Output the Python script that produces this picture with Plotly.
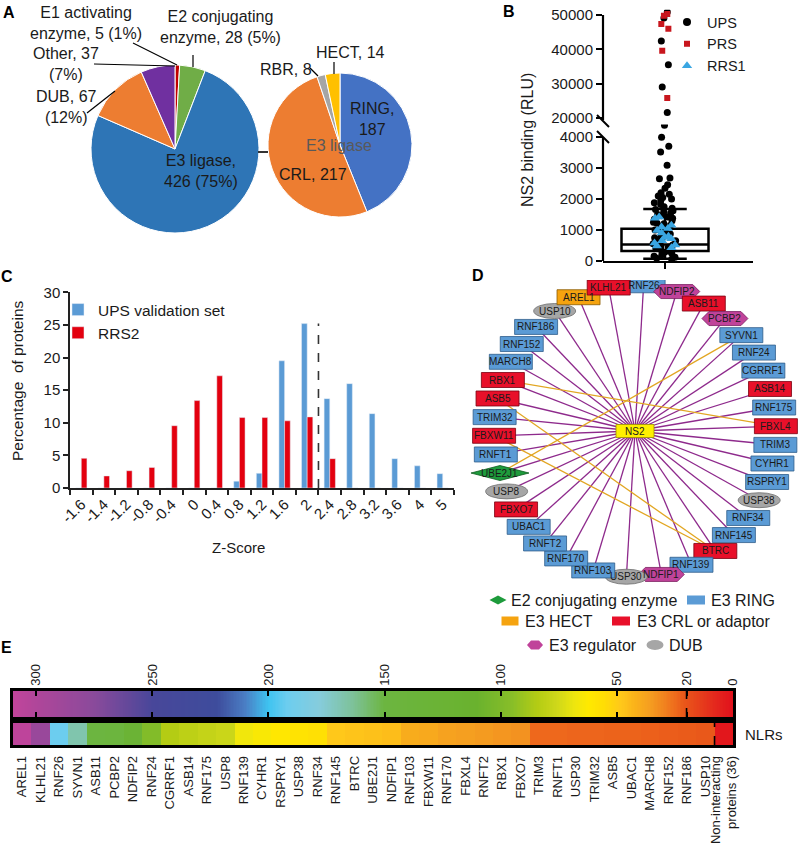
import numpy as np
import plotly.graph_objects as go

FONT = "Liberation Sans, Arial, sans-serif"
INK = "#1a1a1a"
W, H = 800, 845

# ---------------- Panel A data ----------------
a_labels = ["E1 activating<br>enzyme", "E2 conjugating<br>enzyme", "E3 ligase", "DUB", "Other"]
a_values = [5, 28, 426, 67, 37]
a_pct = [1, 5, 75, 12, 7]
a_colors = ["#C00000", "#70AD47", "#2E75B6", "#ED7D31", "#7030A0"]
e3_labels = ["RING", "CRL", "RBR", "HECT"]
e3_values = [187, 217, 8, 14]
e3_colors = ["#4472C4", "#ED7D31", "#A5A5A5", "#FFC000"]

# ---------------- Panel B data ----------------
b_ups_high = [50900, 49100, 42400, 35500, 29000, 21600]
b_prs_high = [50300, 49800, 47400, 46000, 39600, 25800]
b_ups_low = [4380, 3990, 3700, 3520, 3090, 2680, 2650, 2460, 2350, 2200, 2150, 2100,
             2050, 2000, 1950, 1880, 1820, 1750, 1700, 1660, 1620, 1580, 1550, 1500,
             1460, 1420, 1380, 1350, 1300, 1250, 1220, 1200, 1150, 1100, 1050, 1000,
             950, 900, 870, 820, 780, 750, 700, 650, 600, 560, 520, 480, 440, 400,
             360, 320, 280, 250, 200, 150, 120, 90, 60]
b_rrs1_low = [1420, 1380, 1150, 1100, 1050, 980, 900, 800, 760, 720, 650, 580, 520, 480, 430]
b_q1, b_median, b_q3, b_lowfence, b_upfence = 320, 530, 1040, 75, 1680

# ---------------- Panel C data ----------------
c_bins = ["-1.6", "-1.4", "-1.2", "-0.8", "-0.4", "0", "0.4", "0.8", "1.2", "1.6",
          "2", "2.4", "2.8", "3.2", "3.6", "4", "5"]
c_ups = [0, 0, 0, 0, 0, 0, 0, 1.05, 2.25, 19.5, 25.2, 13.7, 16.0, 11.4, 4.5, 3.4, 2.2]
c_rrs2 = [4.55, 1.85, 2.65, 3.15, 9.55, 13.4, 17.2, 10.8, 10.8, 10.3, 10.9, 4.5, 0, 0, 0, 0, 0]
c_cutoff_after = "2"

# ---------------- Panel D data ----------------
d_nodes = ["RNF26", "NDFIP2", "ASB11", "PCBP2", "SYVN1", "RNF24", "CGRRF1", "ASB14",
           "RNF175", "FBXL4", "TRIM3", "CYHR1", "RSPRY1", "USP38", "RNF34", "RNF145",
           "BTRC", "RNF139", "NDFIP1", "USP30", "RNF103", "RNF170", "RNFT2", "UBAC1",
           "FBXO7", "USP8", "UBE2J1", "RNFT1", "FBXW11", "TRIM32", "ASB5", "RBX1",
           "MARCH8", "RNF152", "RNF186", "USP10", "AREL1", "KLHL21"]
d_types = ["RING", "REG", "CRL", "REG", "RING", "RING", "RING", "CRL",
           "RING", "CRL", "RING", "RING", "RING", "DUB", "RING", "RING",
           "CRL", "RING", "REG", "DUB", "RING", "RING", "RING", "RING",
           "CRL", "DUB", "E2", "RING", "CRL", "RING", "CRL", "CRL",
           "RING", "RING", "RING", "DUB", "HECT", "CRL"]
d_extra_edges = [("SYVN1", "UBE2J1"), ("RBX1", "FBXL4"), ("ASB5", "BTRC"), ("FBXW11", "BTRC")]
d_center = "NS2"

# ---------------- Panel E data ----------------
e_names = ["AREL1", "KLHL21", "RNF26", "SYVN1", "ASB11", "PCBP2", "NDFIP2", "RNF24",
           "CGRRF1", "ASB14", "RNF175", "USP8", "RNF139", "CYHR1", "RSPRY1", "USP38",
           "RNF34", "RNF145", "BTRC", "UBE2J1", "NDFIP1", "RNF103", "FBXW11", "RNF170",
           "FBXL4", "RNFT2", "RBX1", "FBXO7", "TRIM3", "RNFT1", "USP30", "TRIM32",
           "ASB5", "UBAC1", "MARCH8", "RNF152", "RNF186", "USP10"]
e_nlr = [308, 285, 192, 168, 150, 145, 125, 98, 84, 81, 79, 77, 67, 64, 61, 59,
         57, 48, 47, 46, 45, 40, 39, 37, 36, 35, 34, 33, 24, 24, 23.5, 23.5,
         23, 23, 22.5, 22, 21.5, 21]
e_nonint_label = "Non-interacting<br>proteins (36)"
e_nonint_nlr = 2
e_ticks = [300, 250, 200, 150, 100, 50, 20, 0]
e_threshold = 20
e_max = 310
e_stops = [(0, "#E1111C"), (8, "#E4291D"), (21, "#E9581A"), (24, "#EE681C"), (30, "#F1851F"),
           (36, "#F59F20"), (42, "#FAB21A"), (48, "#FFC81A"), (55, "#FFDC05"), (62, "#FFE900"),
           (68, "#EEE60E"), (76, "#CDD71A"), (84, "#B4CC14"), (95, "#88BE28"), (110, "#6AB22E"),
           (150, "#6CB540"), (163, "#7DC196"), (178, "#86CCDC"), (192, "#6CCDEF"), (200, "#3EC3F0"),
           (210, "#4A7EC4"), (222, "#3E4C9C"), (250, "#48479A"), (275, "#8A4A9B"), (300, "#B0469A"),
           (310, "#C2449B")]


def X(p):
    return p / W


def Y(p):
    return 1 - p / H


fig = go.Figure()
annotations = []
shapes = []


def ann(x, y, text, size=15, color=INK, xanchor="center", yanchor="middle", angle=0,
        xref="paper", yref="paper", bold=False):
    if xref == "paper":
        x = X(x)
    if yref == "paper":
        y = Y(y)
    annotations.append(dict(x=x, y=y, xref=xref, yref=yref, text=f"<b>{text}</b>" if bold else text,
                            showarrow=False, xanchor=xanchor, yanchor=yanchor, textangle=angle,
                            font=dict(family=FONT, size=size, color=color)))


def pline(x0, y0, x1, y1, color="black", width=1.2, dash="solid"):
    shapes.append(dict(type="line", xref="paper", yref="paper", x0=X(x0), y0=Y(y0), x1=X(x1), y1=Y(y1),
                       line=dict(color=color, width=width, dash=dash)))


# ================= Panel A =================
fig.add_trace(go.Pie(values=a_values, labels=a_labels, sort=False, direction="clockwise", rotation=0,
                     marker=dict(colors=a_colors, line=dict(color="white", width=1)),
                     textinfo="none", showlegend=False,
                     domain=dict(x=[X(91), X(259)], y=[Y(233), Y(65)])))
fig.add_trace(go.Pie(values=e3_values, labels=e3_labels, sort=False, direction="clockwise", rotation=0,
                     marker=dict(colors=e3_colors, line=dict(color="white", width=1)),
                     textinfo="none", showlegend=False,
                     domain=dict(x=[X(268), X(412)], y=[Y(217), Y(73)])))

a_text = [f"{a_labels[0]}, {a_values[0]} ({a_pct[0]}%)",
          f"{a_labels[1]}, {a_values[1]} ({a_pct[1]}%)",
          f"{a_labels[2]},<br>{a_values[2]} ({a_pct[2]}%)",
          f"{a_labels[3]}, {a_values[3]}<br>({a_pct[3]}%)",
          f"{a_labels[4]}, {a_values[4]}<br>({a_pct[4]}%)"]
a_pos = [(86, 23), (220, 27), (201, 171), (66, 107), (66, 64)]
for t, (x, y) in zip(a_text, a_pos):
    ann(x, y, t, size=16)
e3_text = [f"{e3_labels[0]},<br>{e3_values[0]}", f"{e3_labels[1]}, {e3_values[1]}",
           f"{e3_labels[2]}, {e3_values[2]}", f"{e3_labels[3]}, {e3_values[3]}"]
e3_pos = [(372, 119), (313, 174), (286, 70), (350, 53)]
for t, (x, y) in zip(e3_text, e3_pos):
    ann(x, y, t, size=16)
ann(339, 146, "E3 ligase", size=16, color="#595959")
pline(133, 43, 177, 65)
pline(94, 64, 175, 66)
pline(87, 113, 115, 91)
pline(193, 55, 193, 67)
pline(310, 68, 318, 76)
pline(334, 62, 334, 74)
pline(258, 152, 268, 152, color="#333", width=2)

# ================= Panel B =================
fig.add_trace(go.Box(x=[0], q1=[b_q1], median=[b_median], q3=[b_q3], lowerfence=[b_lowfence],
                     upperfence=[b_upfence], boxpoints=False, width=0.87, whiskerwidth=0.5,
                     fillcolor="white", line=dict(color="black", width=2.5), showlegend=False,
                     xaxis="x", yaxis="y"))
pts = dict(boxpoints="all", pointpos=0, width=0.87, fillcolor="rgba(0,0,0,0)",
           line=dict(color="rgba(0,0,0,0)", width=0), showlegend=False, hoveron="points")
fig.add_trace(go.Box(y=b_ups_low, x=[0] * len(b_ups_low), jitter=0.3, xaxis="x", yaxis="y",
                     marker=dict(symbol="circle", color="black", size=7), **pts))
fig.add_trace(go.Box(y=b_rrs1_low, x=[0] * len(b_rrs1_low), jitter=0.3, xaxis="x", yaxis="y",
                     marker=dict(symbol="triangle-up", color="#3AA6E2", size=9), **pts))
fig.add_trace(go.Box(y=b_ups_high, x=[0] * len(b_ups_high), jitter=0.1, xaxis="x", yaxis="y2",
                     marker=dict(symbol="circle", color="black", size=7), **pts))
fig.add_trace(go.Box(y=b_prs_high, x=[0] * len(b_prs_high), jitter=0.1, xaxis="x", yaxis="y2",
                     marker=dict(symbol="square", color="#C8161D", size=6), **pts))
for nm, sym, col, sz in [("UPS", "circle", "black", 8), ("PRS", "square", "#C8161D", 6),
                          ("RRS1", "triangle-up", "#3AA6E2", 9)]:
    fig.add_trace(go.Scatter(x=[None], y=[None], mode="markers", name=nm, legend="legend",
                             marker=dict(symbol=sym, color=col, size=sz), xaxis="x", yaxis="y"))
# broken y-axis line
pline(603, 15, 603, 120, width=2.2)
pline(603, 137, 603, 261, width=2.2)
pline(597, 115, 609, 127, width=2)
pline(597, 131, 609, 143, width=2)
ann(528, 140, "NS2 binding (RLU)", size=16, angle=-90)

# ================= Panel C =================
fig.add_trace(go.Bar(x=c_bins, y=c_ups, name="UPS validation set", marker=dict(color="#5B9BD5"),
                     xaxis="x2", yaxis="y3", legend="legend2"))
fig.add_trace(go.Bar(x=c_bins, y=c_rrs2, name="RRS2", marker=dict(color="#E3000F"),
                     xaxis="x2", yaxis="y3", legend="legend2"))
cut = c_bins.index(c_cutoff_after) + 0.5
shapes.append(dict(type="line", xref="x2", yref="y3", x0=cut, x1=cut, y0=0, y1=25.2,
                   line=dict(color="#333", width=1.6, dash="dash")))
ann(17, 381, "Percentage  of proteins", size=15.5, angle=-90)
ann(238, 547, "Z-Score", size=15)

# ================= Panel D =================
cx, cy, rx, ry, ratio = 635, 431, 141, 146, 1.9
tt = np.linspace(0, 2 * np.pi, 6001)
ex, ey = rx * np.sin(tt), -ry * np.cos(tt)
seg = np.hypot(np.diff(ex) / ratio, np.diff(ey))
ss = np.concatenate([[0], np.cumsum(seg)])
L = ss[-1]
s0 = np.interp(np.deg2rad(3.5), tt, ss)
n = len(d_nodes)
targets = (s0 + np.arange(n) * L / n) % L
ti = np.interp(targets, ss, tt)
nx = cx + rx * np.sin(ti)
ny = cy - ry * np.cos(ti)
pos = {nm: (x, y) for nm, x, y in zip(d_nodes, nx, ny)}

ex_l, ey_l = [], []
for nm in d_nodes:
    ex_l += [cx, pos[nm][0], None]
    ey_l += [cy, pos[nm][1], None]
fig.add_trace(go.Scatter(x=ex_l, y=ey_l, mode="lines", line=dict(color="#8E2A8C", width=1.3),
                         xaxis="x3", yaxis="y4", showlegend=False, hoverinfo="skip"))
gx, gy = [], []
for a, b in d_extra_edges:
    gx += [pos[a][0], pos[b][0], None]
    gy += [pos[a][1], pos[b][1], None]
fig.add_trace(go.Scatter(x=gx, y=gy, mode="lines", line=dict(color="#E2A622", width=1.3),
                         xaxis="x3", yaxis="y4", showlegend=False, hoverinfo="skip"))

STY = {"RING": ("#5B9BD5", "#2F5D8A"), "CRL": ("#E8102A", "#7A0010"), "HECT": ("#F5A30F", "#8A5A00"),
       "REG": ("#C0439A", "#7A1F60"), "DUB": ("#A6A6A6", "#6E6E6E"), "E2": ("#1E9B3C", "#0E5A20"),
       "NS2": ("#FFF000", "#9A9000")}


def node_shape(x, y, typ, w=None, h=None):
    fill, edge = STY[typ]
    xr, yr = "x3", "y4"
    if typ in ("RING", "CRL", "HECT", "NS2"):
        w = w or 43
        h = h or 15
        return dict(type="rect", xref=xr, yref=yr, x0=x - w / 2, x1=x + w / 2, y0=y - h / 2, y1=y + h / 2,
                    fillcolor=fill, line=dict(color=edge, width=0.8))
    if typ == "DUB":
        w = w or 42
        h = h or 15
        return dict(type="circle", xref=xr, yref=yr, x0=x - w / 2, x1=x + w / 2, y0=y - h / 2, y1=y + h / 2,
                    fillcolor=fill, line=dict(color=edge, width=0.8))
    if typ == "REG":
        w = w or 46
        h = h or 14
        p = [(x - w / 2, y), (x - w / 2 + h / 2, y - h / 2), (x + w / 2 - h / 2, y - h / 2), (x + w / 2, y),
             (x + w / 2 - h / 2, y + h / 2), (x - w / 2 + h / 2, y + h / 2)]
    else:
        w = w or 58
        h = h or 15
        p = [(x - w / 2, y), (x, y - h / 2), (x + w / 2, y), (x, y + h / 2)]
    path = "M " + " L ".join(f"{a:.2f},{b:.2f}" for a, b in p) + " Z"
    return dict(type="path", xref=xr, yref=yr, path=path, fillcolor=fill, line=dict(color=edge, width=0.8))


for nm, typ in zip(d_nodes, d_types):
    x, y = pos[nm]
    shapes.append(node_shape(x, y, typ))
    ann(x, y, nm, size=10, xref="x3", yref="y4")
shapes.append(node_shape(cx, cy, "NS2", w=38, h=13))
ann(cx, cy, d_center, size=10, xref="x3", yref="y4")

# network legend (paper px)
leg = [(498, 600, "E2", 17, 9, 509, "E2 conjugating enzyme"), (696, 600, "RING", 18, 9, 709, "E3 RING"),
       (510, 621, "HECT", 17, 9, 523, "E3 HECT"), (621, 621, "CRL", 18, 9, 635, "E3 CRL or adaptor"),
       (535, 645, "REG", 16, 9, 547, "E3 regulator"), (655, 645, "DUB", 17, 10, 667, "DUB")]
for x, y, typ, w, h, tx, label in leg:
    fill, edge = STY[typ]
    if typ in ("RING", "HECT", "CRL"):
        shapes.append(dict(type="rect", xref="paper", yref="paper", x0=X(x - w / 2), x1=X(x + w / 2),
                           y0=Y(y + h / 2), y1=Y(y - h / 2), fillcolor=fill, line=dict(width=0)))
    elif typ == "DUB":
        shapes.append(dict(type="circle", xref="paper", yref="paper", x0=X(x - w / 2), x1=X(x + w / 2),
                           y0=Y(y + h / 2), y1=Y(y - h / 2), fillcolor=fill, line=dict(width=0)))
    elif typ == "REG":
        p = [(x - w / 2, y), (x - w / 2 + 4, y - h / 2), (x + w / 2 - 4, y - h / 2), (x + w / 2, y),
             (x + w / 2 - 4, y + h / 2), (x - w / 2 + 4, y + h / 2)]
        shapes.append(dict(type="path", xref="paper", yref="paper",
                           path="M " + " L ".join(f"{X(a):.5f},{Y(b):.5f}" for a, b in p) + " Z",
                           fillcolor=fill, line=dict(width=0)))
    else:
        p = [(x - w / 2, y), (x, y - h / 2), (x + w / 2, y), (x, y + h / 2)]
        shapes.append(dict(type="path", xref="paper", yref="paper",
                           path="M " + " L ".join(f"{X(a):.5f},{Y(b):.5f}" for a, b in p) + " Z",
                           fillcolor=fill, line=dict(width=0)))
    ann(tx, y, label, size=16, xanchor="left")

# ================= Panel E =================
cs = [[v / e_max, c] for v, c in e_stops]
grad_x = np.linspace(e_max, 0, 500)
fig.add_trace(go.Heatmap(x=grad_x, y=[0], z=[grad_x], colorscale=cs, zmin=0, zmax=e_max,
                         showscale=False, xaxis="x4", yaxis="y5", hoverinfo="skip"))
cells = e_nlr + [e_nonint_nlr]
fig.add_trace(go.Heatmap(x=list(range(len(cells))), y=[0], z=[cells], colorscale=cs, zmin=0, zmax=e_max,
                         showscale=False, xaxis="x5", yaxis="y6", xgap=0))
shapes.append(dict(type="line", xref="x4", yref="y5", x0=e_threshold, x1=e_threshold, y0=-0.5, y1=0.5,
                   line=dict(color="black", width=1.6, dash="dash")))
shapes.append(dict(type="line", xref="x5", yref="y6", x0=len(e_nlr) - 0.5, x1=len(e_nlr) - 0.5,
                   y0=-0.5, y1=0.5, line=dict(color="black", width=1.6, dash="dash")))
ann(743, 734, "NLRs", size=15, xanchor="left")

# panel letters
for t, x, y in [("A", 9, 13), ("B", 509, 11), ("C", 7, 276), ("D", 478, 275), ("E", 6, 647)]:
    ann(x, y, t, size=16, bold=True, color="black")

ax_common = dict(showgrid=False, zeroline=False, color=INK,
                 tickfont=dict(family=FONT, size=15, color=INK))
layout = dict(
    width=W, height=H, margin=dict(l=0, r=0, t=0, b=0, pad=0, autoexpand=False), autosize=False,
    paper_bgcolor="white", plot_bgcolor="white", font=dict(family=FONT, color=INK),
    barmode="group", bargap=0.5, bargroupgap=0, boxmode="overlay",
    xaxis=dict(domain=[X(603), X(753)], range=[-0.62, 0.88], anchor="y", showline=True, linewidth=2.2,
               linecolor="black", ticks="outside", ticklen=6, tickwidth=2, tickcolor="black",
               tickvals=[0], showticklabels=False, showgrid=False, zeroline=False),
    yaxis=dict(domain=[Y(261), Y(124.6)], range=[0, 4400], anchor="x", tickformat="d",
               tickvals=[0, 1000, 2000, 3000, 4000], ticks="outside", ticklen=6, tickwidth=2,
               tickcolor="black", showline=False, **ax_common),
    yaxis2=dict(domain=[Y(121.4), Y(9.85)], range=[19000, 51500], anchor="x", tickformat="d",
                tickvals=[20000, 30000, 40000, 50000], ticks="outside", ticklen=6, tickwidth=2,
                tickcolor="black", showline=False, **ax_common),
    xaxis2=dict(domain=[X(70), X(454)], anchor="y3", type="category", categoryorder="array",
                categoryarray=c_bins, tickson="boundaries", ticks="outside", ticklen=5, tickwidth=1.5,
                tickcolor="#222", tickangle=-45, showline=True, linewidth=1.5, linecolor="#222",
                showgrid=False, zeroline=False, tickfont=dict(family=FONT, size=15, color=INK)),
    yaxis3=dict(domain=[Y(488), Y(292.3)], range=[0, 30], dtick=5, anchor="x2", ticks="outside",
                ticklen=5, tickwidth=1.5, tickcolor="#222", showline=True, linewidth=1.5,
                linecolor="#222", **ax_common),
    xaxis3=dict(domain=[X(460), X(800)], range=[460, 800], anchor="y4", visible=False),
    yaxis4=dict(domain=[Y(620), Y(280)], range=[620, 280], anchor="x3", visible=False),
    xaxis4=dict(domain=[X(13), X(733)], range=[e_max, 0], anchor="y5", side="top",
                tickvals=e_ticks, tickangle=-90, ticks="inside", ticklen=5, tickwidth=2,
                tickcolor="black", mirror="ticks", showline=True, linewidth=2.5, linecolor="black",
                showgrid=False, zeroline=False, tickfont=dict(family=FONT, size=13, color=INK)),
    yaxis5=dict(domain=[Y(717), Y(691)], range=[-0.5, 0.5], anchor="x4", showticklabels=False,
                showline=True, mirror=True, linewidth=2.5, linecolor="black", ticks="",
                showgrid=False, zeroline=False),
    xaxis5=dict(domain=[X(13), X(733)], range=[-0.5, len(cells) - 0.5], anchor="y6",
                tickvals=list(range(len(cells))), ticktext=e_names + [e_nonint_label], tickangle=-90,
                ticks="", showline=True, mirror=True, linewidth=2.5, linecolor="black",
                showgrid=False, zeroline=False, ticklabelstandoff=3,
                tickfont=dict(family=FONT, size=13, color=INK)),
    yaxis6=dict(domain=[Y(745), Y(723)], range=[-0.5, 0.5], anchor="x5", showticklabels=False,
                showline=True, mirror=True, linewidth=2.5, linecolor="black", ticks="",
                showgrid=False, zeroline=False),
    legend=dict(x=X(667), y=Y(6), xanchor="left", yanchor="top", bgcolor="rgba(0,0,0,0)",
                font=dict(family=FONT, size=14.5, color=INK), tracegroupgap=0, itemwidth=30),
    legend2=dict(x=X(58), y=Y(293), xanchor="left", yanchor="top", bgcolor="rgba(0,0,0,0)",
                 font=dict(family=FONT, size=15.5, color=INK), tracegroupgap=0, itemwidth=30),
    annotations=annotations, shapes=shapes,
)
fig.update_layout(**layout)
fig.write_html("out.html", config={"displayModeBar": False},
               post_script="document.body.style.margin='0';document.body.style.overflow='hidden';")
